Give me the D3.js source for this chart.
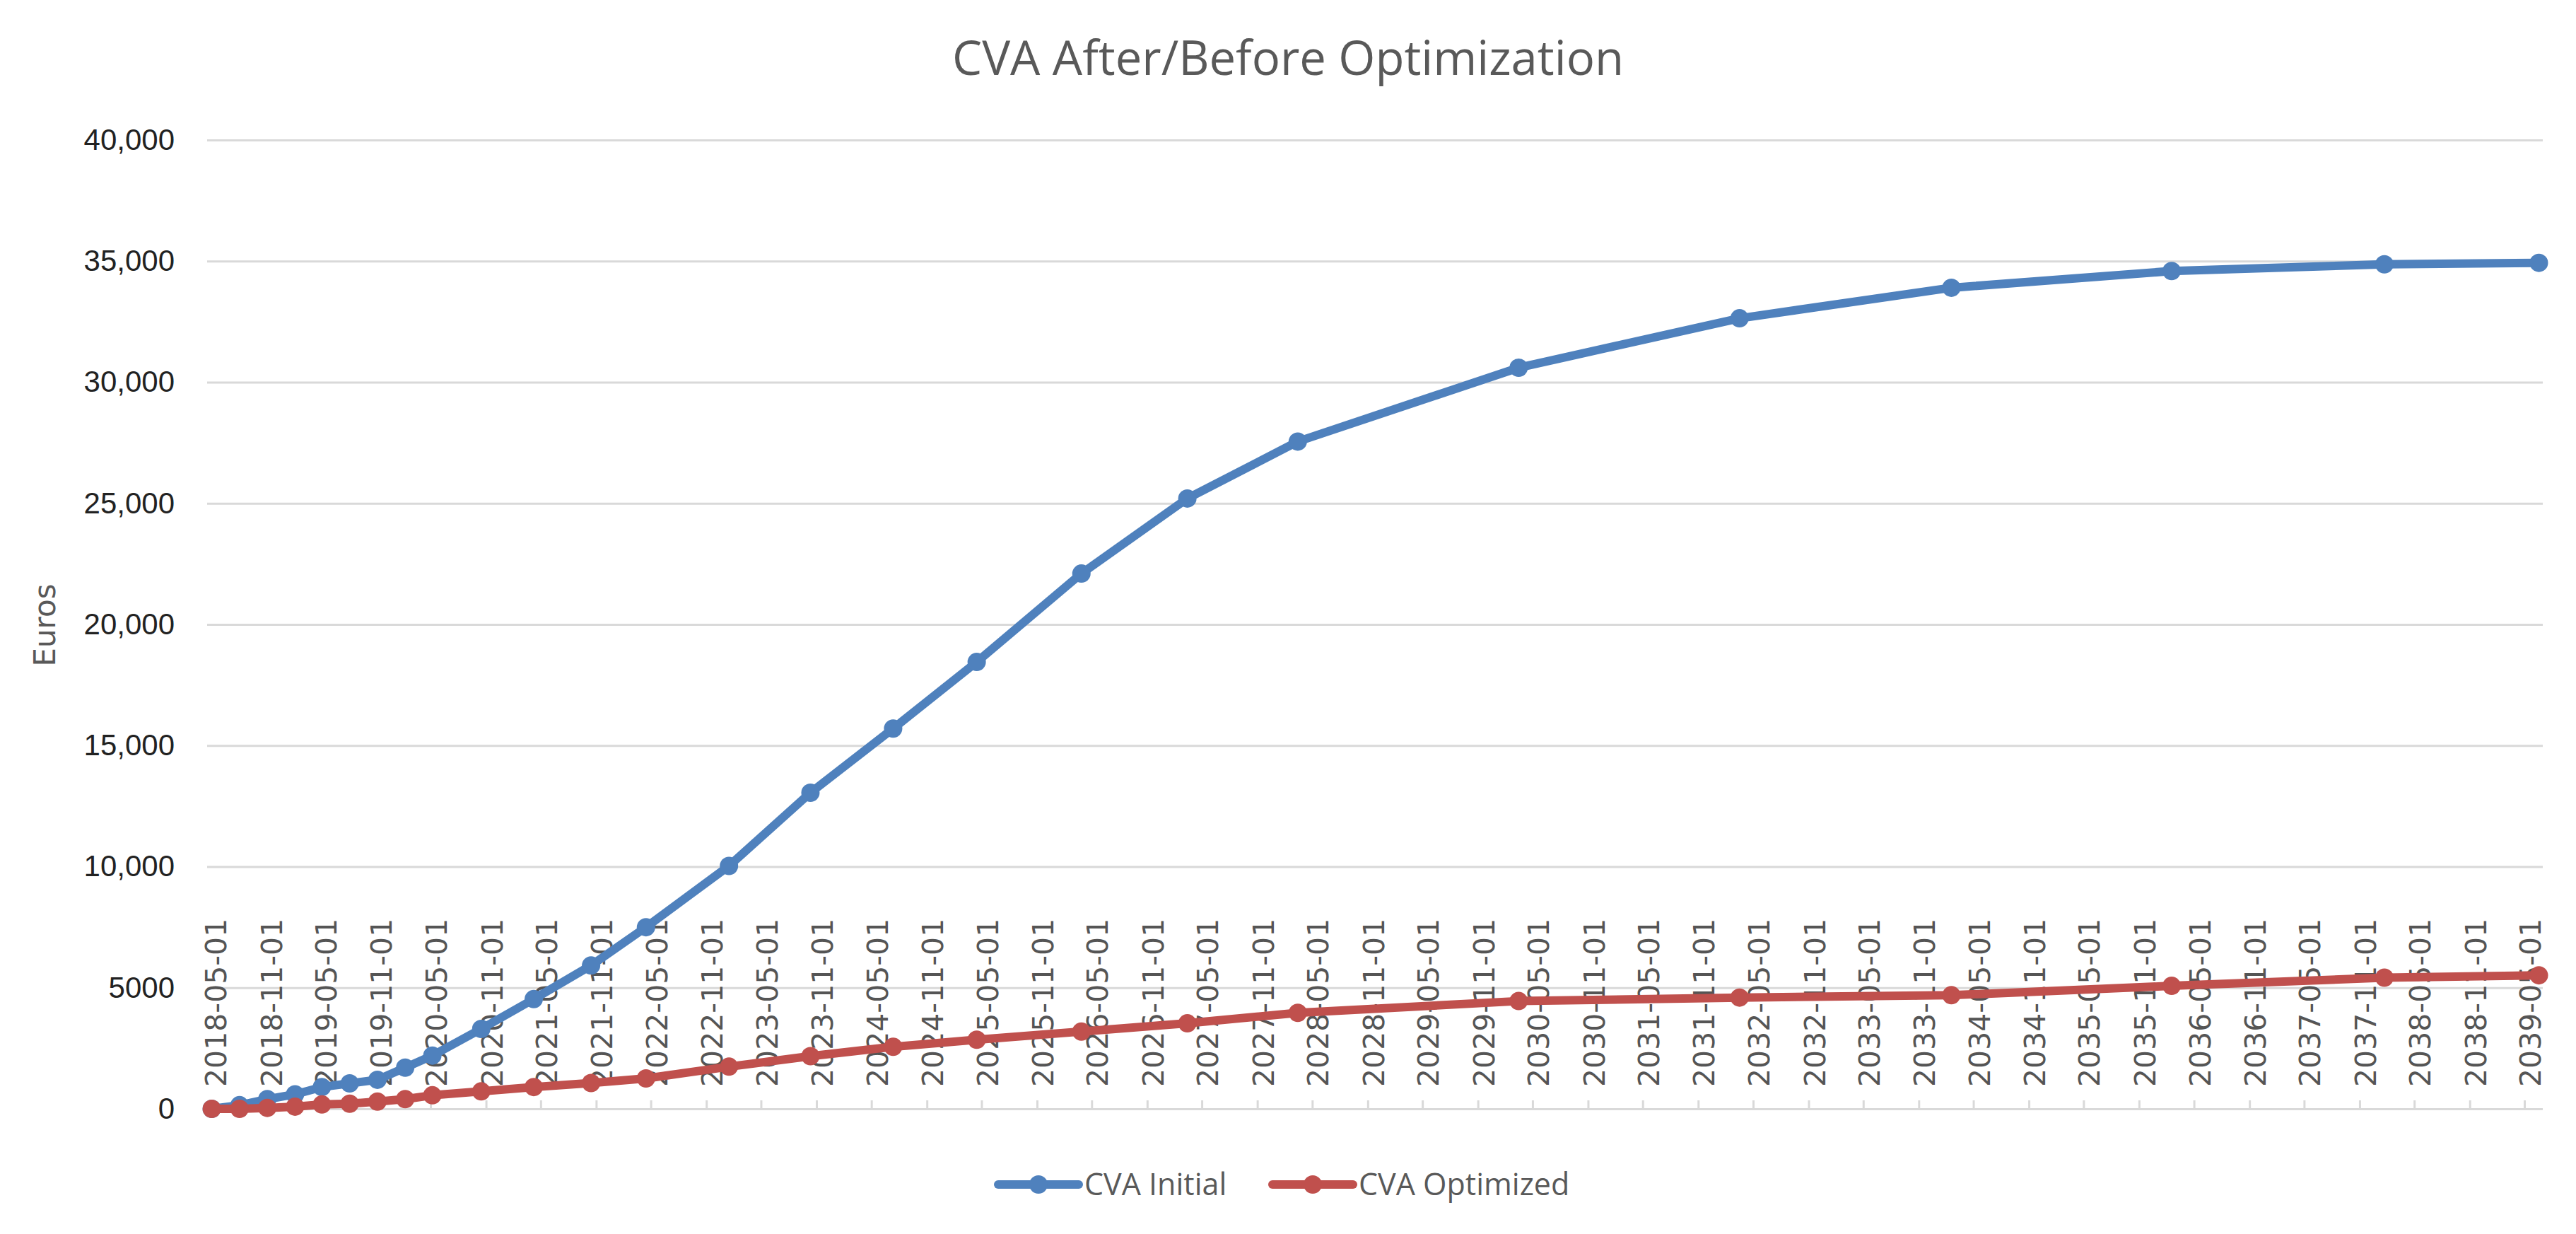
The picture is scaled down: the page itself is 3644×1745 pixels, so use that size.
<!DOCTYPE html>
<html>
<head>
<meta charset="utf-8">
<script src="https://cdn.jsdelivr.net/npm/d3@7"></script>
<style>
  html, body { margin: 0; padding: 0; background: #fff; }
</style>
</head>
<body>
<div id="chart"></div>
<script>
// dates of the simulation grid
const dates = [
    "2018-05-07", "2018-08-07", "2018-11-07", "2019-02-07", "2019-05-07",
    "2019-08-07", "2019-11-07", "2020-02-07", "2020-05-07", "2020-10-16",
    "2021-04-08", "2021-10-15", "2022-04-15", "2023-01-15", "2023-10-12",
    "2024-07-12", "2025-04-15", "2026-03-28", "2027-03-14", "2028-03-14",
    "2030-03-16", "2032-03-17", "2034-02-17", "2036-02-17", "2038-01-22",
    "2039-06-18"
];
const cvaInitial = [
    0, 150, 400, 600, 900, 1050, 1200, 1700, 2200, 3300,
    4530, 5920, 7500, 10030, 13050, 15700, 18450, 22100, 25200, 27550,
    30600, 32640, 33900, 34590, 34870, 34930
];
const cvaOptimized = [
    0, 0, 40, 90, 180, 210, 300, 400, 560, 720,
    900, 1064, 1257, 1741, 2176, 2563, 2853, 3191, 3530, 3965,
    4449, 4594, 4691, 5077, 5416, 5513
];
const seriesNames = ["CVA Initial", "CVA Optimized"];
const tickLabels = [
    "2018-05-01", "2018-11-01", "2019-05-01", "2019-11-01", "2020-05-01", "2020-11-01",
    "2021-05-01", "2021-11-01", "2022-05-01", "2022-11-01", "2023-05-01", "2023-11-01",
    "2024-05-01", "2024-11-01", "2025-05-01", "2025-11-01", "2026-05-01", "2026-11-01",
    "2027-05-01", "2027-11-01", "2028-05-01", "2028-11-01", "2029-05-01", "2029-11-01",
    "2030-05-01", "2030-11-01", "2031-05-01", "2031-11-01", "2032-05-01", "2032-11-01",
    "2033-05-01", "2033-11-01", "2034-05-01", "2034-11-01", "2035-05-01", "2035-11-01",
    "2036-05-01", "2036-11-01", "2037-05-01", "2037-11-01", "2038-05-01", "2038-11-01",
    "2039-05-01"
];
const yTicks = [0, 5000, 10000, 15000, 20000, 25000, 30000, 35000, 40000];

const config = {
    width: 3644,
    height: 1745,
    plotLeft: 293,
    plotRight: 3597,
    axisStart: 297,
    axisEnd: 3571,
    yBottom: 1568,
    yTop: 198,
    colors: ["#4F81BD", "#C0504D"],
    grid: "#d9d9d9",
    text: "#595959",
};

const parse = d3.timeParse("%Y-%m-%d");
const tickDates = tickLabels.map(parse);

const x = d3.scaleTime()
    .domain([tickDates[0], tickDates[tickDates.length - 1]])
    .range([config.axisStart, config.axisEnd]);
const y = d3.scaleLinear().domain([0, 40000]).range([config.yBottom, config.yTop]);

const series = [cvaInitial, cvaOptimized].map((vals, i) => ({
    name: seriesNames[i],
    color: config.colors[i],
    points: vals.map((v, j) => ({ date: parse(dates[j]), value: v })),
}));

const svg = d3.select("#chart").append("svg")
    .attr("width", config.width)
    .attr("height", config.height)
    .attr("viewBox", [0, 0, config.width, config.height]);

svg.append("rect").attr("width", config.width).attr("height", config.height).attr("fill", "#fff");

// title
svg.append("text")
    .attr("x", config.width / 2)
    .attr("y", 106)
    .attr("text-anchor", "middle")
    .attr("fill", config.text)
    .style("font", "67px 'Open Sans'")
    .text("CVA After/Before Optimization");

// horizontal gridlines + y labels
const yAxis = svg.append("g")
    .call(d3.axisLeft(y).tickValues(yTicks)
        .tickSize(-(config.plotRight - config.plotLeft))
        .tickFormat(d => d >= 10000 ? d3.format(",")(d) : d3.format("d")(d)))
    .attr("transform", `translate(${config.plotLeft},0)`)
    .call(g => g.select(".domain").remove());
yAxis.selectAll(".tick line").attr("stroke", config.grid).attr("stroke-width", 3);
yAxis.selectAll(".tick text")
    .attr("x", 247 - config.plotLeft)
    .attr("fill", "#222")
    .style("font", "42px 'Liberation Sans', sans-serif");

// axis title
svg.append("text")
    .attr("transform", "translate(78,884) rotate(-90)")
    .attr("text-anchor", "middle")
    .attr("fill", config.text)
    .style("font", "42px 'DejaVu Sans'")
    .text("Euros");

// x axis: labels sit above the baseline, ticks point up
const xAxis = svg.append("g")
    .attr("transform", `translate(0,${config.yBottom})`)
    .call(d3.axisBottom(x).tickValues(tickDates).tickSizeInner(-12).tickSizeOuter(0)
        .tickFormat(d3.timeFormat("%Y-%m-%d")))
    .call(g => g.select(".domain").remove());
xAxis.selectAll(".tick line").attr("stroke", config.grid).attr("stroke-width", 3);
xAxis.selectAll(".tick text")
    .attr("transform", "rotate(-90)")
    .attr("text-anchor", "start")
    .attr("x", 31)
    .attr("y", 0)
    .attr("dy", "0.55em")
    .attr("fill", "#555")
    .style("font", "41px 'DejaVu Sans'");

// series
const line = d3.line().x(d => x(d.date)).y(d => y(d.value));
const sg = svg.selectAll(".series")
    .data(series)
    .join("g")
    .attr("class", "series");
sg.append("path")
    .attr("d", d => line(d.points))
    .attr("fill", "none")
    .attr("stroke", d => d.color)
    .attr("stroke-width", 12)
    .attr("stroke-linejoin", "round")
    .attr("stroke-linecap", "round");
sg.selectAll("circle")
    .data(d => d.points.map(p => ({ ...p, color: d.color })))
    .join("circle")
    .attr("cx", d => x(d.date))
    .attr("cy", d => y(d.value))
    .attr("r", 13)
    .attr("fill", d => d.color);

// legend
const legendPos = [1412, 1800];
const legend = svg.selectAll(".legend")
    .data(series)
    .join("g")
    .attr("class", "legend")
    .attr("transform", (d, i) => `translate(${legendPos[i]},1675)`);
legend.append("line")
    .attr("x1", 0).attr("x2", 114)
    .attr("stroke", d => d.color)
    .attr("stroke-width", 12)
    .attr("stroke-linecap", "round");
legend.append("circle")
    .attr("cx", 57).attr("r", 13)
    .attr("fill", d => d.color);
legend.append("text")
    .attr("x", 122)
    .attr("dy", "0.36em")
    .attr("fill", config.text)
    .style("font", "43px 'Open Sans'")
    .text(d => d.name);
</script>
</body>
</html>
